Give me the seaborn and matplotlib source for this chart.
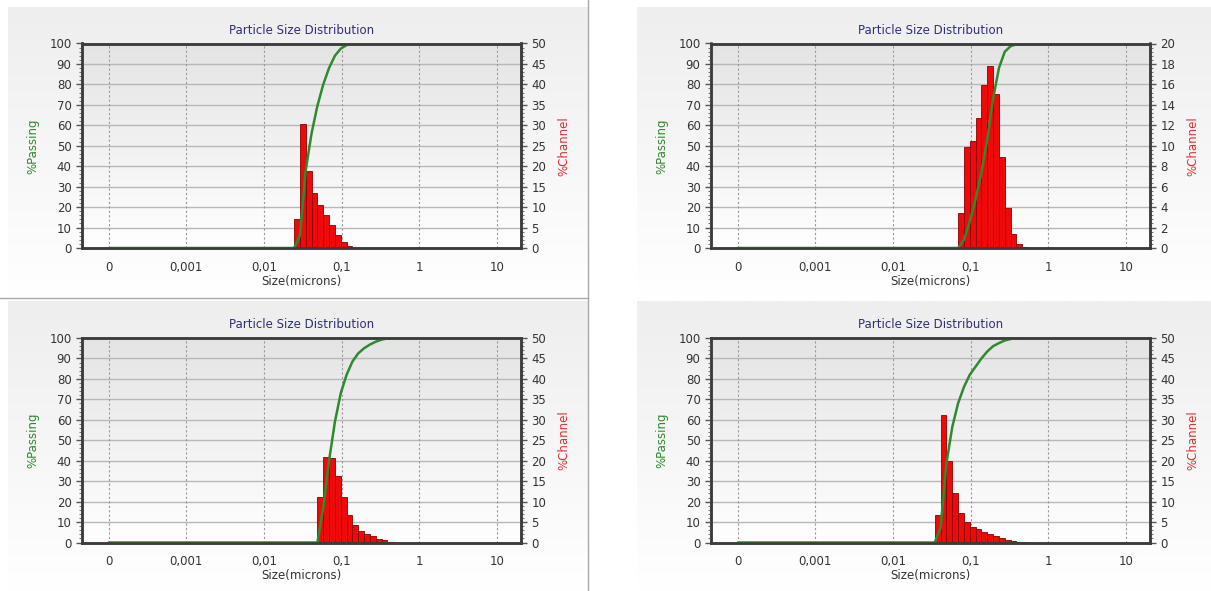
import numpy as np
import matplotlib
matplotlib.use("Agg")
import matplotlib.pyplot as plt
import seaborn as sns
from matplotlib.lines import Line2D
from matplotlib.colors import LinearSegmentedColormap
from matplotlib.ticker import FixedLocator, FixedFormatter, LogLocator, NullFormatter, MultipleLocator


# instrument channel edges (microns)
CHANNEL_EDGES = [0.0206, 0.0245, 0.0291, 0.0346, 0.0411, 0.0489, 0.0582, 0.0691,
                 0.0822, 0.0978, 0.1163, 0.1383, 0.1644, 0.1955, 0.2325, 0.2765,
                 0.3288, 0.3910, 0.4650, 0.5530, 0.6576, 0.7820]

X_TICKS = [0.0001, 0.001, 0.01, 0.1, 1, 10]
X_TICK_LABELS = ["0", "0,001", "0,01", "0,1", "1", "10"]
CURVE_START = 0.0001
CURVE_END = 7.4

# top left
P1_START = 1
P1_CHANNEL = [7.0, 30.2, 18.8, 13.4, 10.6, 8.1, 5.7, 3.3, 1.4, 0.5, 0.1]
P1_PASSING = [0, 6, 38, 56, 69.5, 80, 88, 94, 97.5, 99.2, 99.8, 100]
P1_CHANNEL_MAX = 50

# top right
P2_START = 7
P2_CHANNEL = [3.4, 9.9, 10.5, 12.7, 15.9, 17.8, 15.1, 8.9, 3.9, 1.4, 0.4, 0.1]
P2_PASSING = [0, 4, 13, 24, 37, 53, 73, 88, 96, 98.7, 99.6, 100, 100]
P2_CHANNEL_MAX = 20

# bottom left
P3_START = 5
P3_CHANNEL = [11.1, 21.0, 20.6, 16.2, 11.1, 6.8, 4.3, 2.8, 2.0, 1.5, 0.9, 0.5, 0.2]
P3_PASSING = [0, 17, 40, 59, 73, 82, 88.5, 92.5, 95, 96.8, 98.2, 99.2, 99.8, 100]
P3_CHANNEL_MAX = 50

# bottom right
P4_START = 3
P4_CHANNEL = [6.8, 31.1, 20.0, 12.0, 7.3, 5.0, 3.9, 3.2, 2.6, 2.1, 1.5, 1.1, 0.7, 0.4, 0.2, 0.1]
P4_PASSING = [0, 7, 38.5, 56.5, 68, 76, 82, 86, 90, 93.4, 96, 97.5, 98.8, 99.5, 99.9, 100, 100]
P4_CHANNEL_MAX = 50

W, H = 1211, 591

GREEN = "#2e8a2e"
RED = "#ee0a0a"
RED_EDGE = "#8a0000"
TEXT = "#333333"
TITLE = "#2f2f7a"

plot_cmap = LinearSegmentedColormap.from_list("plotbg", ["#ffffff", "#e4e4e4"])
panel_cmap = LinearSegmentedColormap.from_list("panelbg", ["#ffffff", "#eeeeee"])
gradient = np.linspace(0, 1, 256).reshape(-1, 1)


def px_rect(left, top, right, bottom):
    return [left / W, 1 - bottom / H, (right - left) / W, (bottom - top) / H]


def add_gradient(fig, rect, cmap, zorder):
    bg = fig.add_axes(rect, zorder=zorder)
    bg.imshow(gradient, aspect="auto", cmap=cmap, origin="lower",
              extent=[0, 1, 0, 1], interpolation="bilinear")
    bg.set_axis_off()
    return bg


def draw_panel(fig, rect, start, channel, passing, channel_max):
    add_gradient(fig, rect, plot_cmap, zorder=1)

    ax = fig.add_axes(rect, zorder=4)
    ax2 = ax.twinx()
    ax2.set_zorder(3)
    ax.patch.set_visible(False)
    ax2.patch.set_visible(False)

    edges = np.array(CHANNEL_EDGES[start:start + len(channel) + 1])
    centers = np.sqrt(edges[:-1] * edges[1:])

    sns.histplot(
        x=centers,
        weights=channel,
        bins=list(np.log10(edges)),
        log_scale=True,
        ax=ax2,
        color=RED,
        edgecolor=RED_EDGE,
        linewidth=0.6,
        alpha=1,
    )

    curve_x = [CURVE_START] + list(edges) + [CURVE_END]
    curve_y = [0] + list(passing) + [100]
    sns.lineplot(x=curve_x, y=curve_y, ax=ax, color=GREEN, linewidth=1.8)

    ax.set_xscale("log")
    ax.set_xlim(10 ** -4.344, 10 ** 1.313)
    ax.set_ylim(0, 100)
    ax2.set_ylim(0, channel_max)

    ax.xaxis.set_major_locator(FixedLocator(X_TICKS))
    ax.xaxis.set_major_formatter(FixedFormatter(X_TICK_LABELS))
    ax.xaxis.set_minor_locator(LogLocator(base=10, subs=np.arange(2, 10), numticks=20))
    ax.xaxis.set_minor_formatter(NullFormatter())

    ax.yaxis.set_major_locator(MultipleLocator(10))
    ax.yaxis.set_minor_locator(MultipleLocator(2))
    ax2.yaxis.set_major_locator(MultipleLocator(channel_max / 10))
    ax2.yaxis.set_minor_locator(MultipleLocator(channel_max / 50))

    # grid sits on the lower twin so the bars cover it
    ax2.grid(False)
    ax.grid(False)
    ax2.set_axisbelow(True)
    for yv in ax2.get_yticks():
        if 0 < yv < channel_max:
            ax2.axhline(yv, color="#b8b8b8", linewidth=1.0, zorder=0.5)
    for xv in X_TICKS:
        ax2.axvline(xv, color="#9a9a9a", linewidth=0.8, linestyle=(0, (2, 2)), zorder=0.5)

    for a in (ax, ax2):
        a.tick_params(which="major", length=4, width=1, color="#555555",
                      labelsize=8.5, labelcolor=TEXT, direction="out")
        a.tick_params(which="minor", length=2, width=0.8, color="#777777", direction="out")
        for side in a.spines.values():
            side.set_color("#3c3c3c")
            side.set_linewidth(1.8)
    ax.tick_params(axis="x", which="major", pad=5)

    ax.set_title("Particle Size Distribution", fontsize=8.5, color=TITLE, pad=7)
    ax.set_xlabel("Size(microns)", fontsize=8.5, color=TEXT, labelpad=1)
    ax.set_ylabel("%Passing", fontsize=8.5, color=GREEN, labelpad=7)
    ax2.set_ylabel("%Channel", fontsize=8.5, color="#e03030", labelpad=8,
                   rotation=90)
    ax2.set_xlabel("")

    return ax, ax2


def main():
    sns.set_theme(style="white")
    plt.rcParams["font.family"] = ["DejaVu Sans"]

    fig = plt.figure(figsize=(W / 100, H / 100), dpi=100)
    fig.patch.set_facecolor("white")

    # panel backgrounds
    add_gradient(fig, px_rect(8, 7, 588, 296), panel_cmap, zorder=0)
    add_gradient(fig, px_rect(8, 301, 588, 591), panel_cmap, zorder=0)
    add_gradient(fig, px_rect(637, 7, 1211, 296), panel_cmap, zorder=0)
    add_gradient(fig, px_rect(637, 301, 1211, 591), panel_cmap, zorder=0)

    fig.add_artist(Line2D([588 / W, 588 / W], [0, 1], color="#a8a8a8", linewidth=1))
    fig.add_artist(Line2D([0, 588 / W], [1 - 298 / H, 1 - 298 / H], color="#a8a8a8", linewidth=1))

    draw_panel(fig, px_rect(82, 43.5, 521, 248), P1_START, P1_CHANNEL, P1_PASSING, P1_CHANNEL_MAX)
    draw_panel(fig, px_rect(711, 43.5, 1150, 248), P2_START, P2_CHANNEL, P2_PASSING, P2_CHANNEL_MAX)
    draw_panel(fig, px_rect(82, 338, 521, 542.5), P3_START, P3_CHANNEL, P3_PASSING, P3_CHANNEL_MAX)
    draw_panel(fig, px_rect(711, 338, 1150, 542.5), P4_START, P4_CHANNEL, P4_PASSING, P4_CHANNEL_MAX)

    fig.savefig("out.png", dpi=100)
    plt.close(fig)


if __name__ == "__main__":
    main()
